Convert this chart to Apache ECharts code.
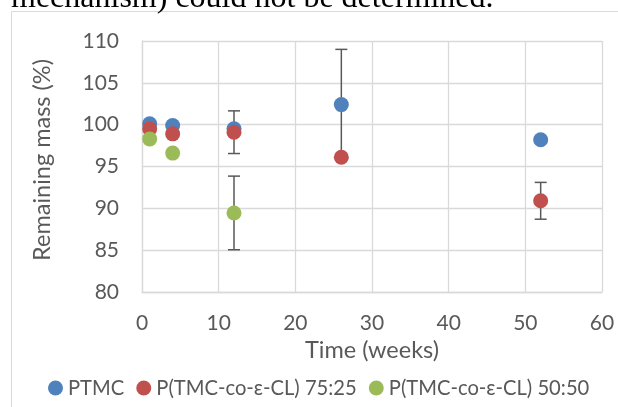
<!DOCTYPE html>
<html>
<head>
<meta charset="utf-8">
<script src="https://cdn.jsdelivr.net/npm/echarts@6/dist/echarts.min.js"></script>
<style>
  html, body { margin: 0; padding: 0; background: #fff; }
  #wrap { position: relative; width: 618px; height: 407px; overflow: hidden; }
  #chart { position: absolute; left: 0; top: 0; width: 618px; height: 407px; }
  #caption { position: absolute; left: 11px; top: -20px; font: 32px/32px "Liberation Serif", serif; color: #000; white-space: nowrap; z-index: 2; }
</style>
</head>
<body>
<div id="wrap">
  <div id="chart"></div>
  <div id="caption">mechanism) could not be determined.</div>
</div>
<script>
// time points (weeks)
var weeks = [1, 4, 12, 26, 52];

// remaining mass (%) per polymer
var ptmc = [100.1, 99.9, 99.5, 102.4, 98.2];
var tmcCl7525 = [99.5, 98.9, 99.1, 96.1, 90.9];
var tmcCl5050 = [98.3, 96.6, 89.45, null, null];

// standard deviation (only where a bar is drawn)
var ptmcErr = [0, 0, 0, 6.6, 0];
var err7525 = [0, 0, 2.55, 0, 2.2];
var err5050 = [0, 0, 4.4, null, null];

var seriesNames = ['PTMC', 'P(TMC-co-ε-CL) 75:25', 'P(TMC-co-ε-CL) 50:50'];
var colors = ['#4F81BD', '#C0504D', '#9BBB59'];

var yTicks = [80, 85, 90, 95, 100, 105, 110];
var xTicks = [0, 10, 20, 30, 40, 50, 60];

var FONT = 'Lato';
var TXT = '#595959';
var GRID = '#D9D9D9';

function points(vals) {
    var out = [];
    for (var i = 0; i < weeks.length; i++) {
        if (vals[i] != null) out.push([weeks[i], vals[i]]);
    }
    return out;
}

function errBars(vals, errs) {
    var out = [];
    for (var i = 0; i < weeks.length; i++) {
        if (vals[i] != null && errs[i]) out.push([weeks[i], vals[i] - errs[i], vals[i] + errs[i]]);
    }
    return out;
}

function renderErr(params, api) {
    var lo = api.coord([api.value(0), api.value(1)]);
    var hi = api.coord([api.value(0), api.value(2)]);
    var w = 6;
    var st = { stroke: '#595959', lineWidth: 1.5 };
    return {
        type: 'group',
        children: [
            { type: 'line', shape: { x1: lo[0], y1: lo[1], x2: hi[0], y2: hi[1] }, style: st },
            { type: 'line', shape: { x1: lo[0] - w, y1: lo[1], x2: lo[0] + w, y2: lo[1] }, style: st },
            { type: 'line', shape: { x1: hi[0] - w, y1: hi[1], x2: hi[0] + w, y2: hi[1] }, style: st }
        ]
    };
}

var allVals = [ptmc, tmcCl7525, tmcCl5050];
var allErrs = [ptmcErr, err7525, err5050];

var series = [];
for (var k = 0; k < 3; k++) {
    series.push({
        type: 'custom',
        renderItem: renderErr,
        data: errBars(allVals[k], allErrs[k]),
        encode: { x: 0, y: [1, 2] },
        z: 1,
        silent: true
    });
}
for (var k = 0; k < 3; k++) {
    series.push({
        name: seriesNames[k],
        type: 'scatter',
        data: points(allVals[k]),
        symbol: 'circle',
        symbolSize: 15,
        itemStyle: { color: colors[k], opacity: 1 },
        z: 3
    });
}

var chart = echarts.init(document.getElementById('chart'), null, { renderer: 'canvas' });
chart.setOption({
    animation: false,
    graphic: [{
        type: 'rect',
        shape: { x: 11.5, y: 11.5, width: 640, height: 440 },
        style: { fill: 'none', stroke: GRID, lineWidth: 1 },
        z: 0
    }],
    grid: { left: 142, right: 16, top: 41, bottom: 115 },
    legend: {
        data: seriesNames,
        left: 43,
        top: 373,
        width: 640,
        icon: 'circle',
        itemWidth: 15,
        itemHeight: 15,
        itemGap: 12,
        textStyle: { fontFamily: FONT, fontSize: 20.2, color: TXT }
    },
    xAxis: {
        type: 'value',
        min: xTicks[0],
        max: xTicks[xTicks.length - 1],
        interval: 10,
        name: 'Time (weeks)',
        nameLocation: 'middle',
        nameGap: 44,
        nameTextStyle: { fontFamily: FONT, fontSize: 23.5, color: TXT },
        axisLine: { show: true, lineStyle: { color: GRID, width: 1.3 } },
        axisTick: { show: false },
        axisLabel: { margin: 21, fontFamily: FONT, fontSize: 21, color: TXT },
        splitLine: { show: true, lineStyle: { color: GRID, width: 1.3 } }
    },
    yAxis: {
        type: 'value',
        min: yTicks[0],
        max: yTicks[yTicks.length - 1],
        interval: 5,
        name: 'Remaining mass (%)',
        nameLocation: 'middle',
        nameGap: 88,
        nameTextStyle: { fontFamily: FONT, fontSize: 23.5, color: TXT, padding: [0, 0, 0, 13] },
        axisLine: { show: true, lineStyle: { color: GRID, width: 1.3 } },
        axisTick: { show: false },
        axisLabel: { margin: 23, fontFamily: FONT, fontSize: 21, color: TXT },
        splitLine: { show: true, lineStyle: { color: GRID, width: 1.3 } }
    },
    series: series
});
</script>
</body>
</html>
